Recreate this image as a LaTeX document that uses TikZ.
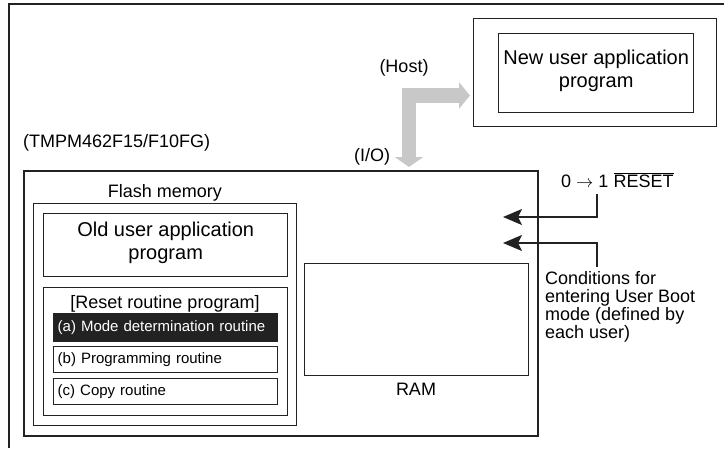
\documentclass[tikz,border=0pt]{standalone}
\usepackage{fontspec}
\setmainfont{Liberation Sans}
\usetikzlibrary{arrows.meta}
\definecolor{linec}{HTML}{222222}
\definecolor{arrowgray}{HTML}{C8C8C8}
\begin{document}
\begin{tikzpicture}[x=1pt,y=-1pt,
  box/.style={draw=linec, line width=1.4pt, rectangle, anchor=north west, inner sep=0pt},
  lbl/.style={font=\fontsize{18}{18}\selectfont, inner sep=0pt, text=black},
  biglbl/.style={font=\fontsize{20}{23}\selectfont, align=center},
  routine/.style={box, minimum width=224pt, inner xsep=4pt, text width=216pt, align=left,
     font=\fontsize{15}{17}\selectfont},
  sigarrow/.style={draw=linec, line width=1.4pt, -{Stealth[length=19pt,width=16pt,inset=4pt]}},
  bigarrow/.style={draw=arrowgray, line width=14.5pt,
     {Triangle[length=10pt,width=28pt]}-{Triangle[length=11pt,width=26pt]}}
]
\useasboundingbox (0,0) rectangle (724,448);

% outer frame (only left and top edges visible)
\draw[draw=linec, line width=1.6pt] (9,448) -- (9,4) -- (724,4);

% chip
\node[box, line width=1.7pt, minimum width=514pt, minimum height=265pt] (chip) at (23,170) {};
\node[lbl, anchor=west] (part) at (23,143) {(TMPM462F15/F10FG)};

% flash memory
\node[lbl] (flashlbl) at (165,193) {Flash memory};
\node[box, minimum width=263pt, minimum height=222pt] (flash) at (33,203) {};
\node[box, minimum width=244pt, minimum height=63pt, biglbl, text depth=8pt] (old) at (43,213) {Old user application\\program};
\node[box, minimum width=244pt, minimum height=128pt] (reset) at (43,287) {};
\node[lbl] (resetlbl) at (165,304) {[Reset routine program]};
\node[routine, fill=linec, text=white, minimum height=28pt] (ra) at (53,313) {(a) Mode determination routine};
\node[routine, minimum height=26pt] (rb) at (53,346) {(b) Programming routine};
\node[routine, minimum height=26pt] (rc) at (53,378) {(c) Copy routine};

% RAM
\node[box, minimum width=224pt, minimum height=112pt] (ram) at (304,263) {};
\node[lbl] (ramlbl) at (416,389) {RAM};

% host
\node[box, minimum width=243pt, minimum height=108pt] (hostout) at (473,18) {};
\node[box, minimum width=195pt, minimum height=79pt, biglbl, text depth=8pt] (hostin) at (498,33) {New user application\\program};
\node[lbl] (hostlbl) at (404,68) {(Host)};
\node[lbl] (iolbl) at (372,157) {(I/O)};

% gray transfer arrow
\coordinate (ioT) at (409,167);
\coordinate (hostT) at (470,95.5);
\draw[bigarrow] (ioT) |- (hostT);

% reset signal
\node[lbl, anchor=west] (rst) at (561,180) {0 $\rightarrow$ 1 $\overline{\mbox{RESET}}$};
\coordinate (rstA) at (597,194);
\coordinate (rstB) at (503,217);
\draw[sigarrow] (rstA) |- (rstB);

% conditions
\node[lbl, anchor=north west, align=left] (cond) at (545,271)
  {Conditions for\\entering User Boot\\mode (defined by\\each user)};
\coordinate (condA) at (597,267);
\coordinate (condB) at (503,243);
\draw[sigarrow] (condA) |- (condB);
\end{tikzpicture}
\end{document}
